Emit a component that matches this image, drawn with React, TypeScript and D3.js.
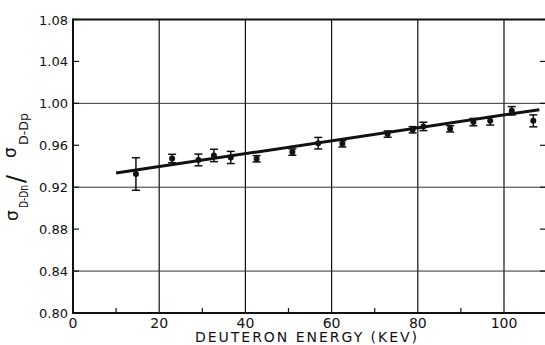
import React from "react";
import * as d3 from "d3";

const energies = [14.6, 23.0, 29.1, 32.7, 36.6, 42.6, 50.9, 56.9, 62.5, 73.0, 78.8, 81.3, 87.5, 92.9, 96.8, 101.8, 106.8];
const ratios = [0.9326, 0.9474, 0.946, 0.9503, 0.9484, 0.9471, 0.9535, 0.962, 0.9614, 0.9707, 0.9748, 0.978, 0.9757, 0.9821, 0.9833, 0.9929, 0.9833];
const errors = [0.0155, 0.004, 0.0056, 0.0059, 0.0058, 0.003, 0.003, 0.0055, 0.003, 0.003, 0.003, 0.004, 0.003, 0.0035, 0.004, 0.004, 0.0057];
const fitEnergies = [10.0, 108.2];
const fitRatios = [0.9335, 0.994];
const xTickLabels = [0, 20, 40, 60, 80, 100];
const xMinorTicks = [10, 30, 50, 70, 90];
const yTickLabels = [0.8, 0.84, 0.88, 0.92, 0.96, 1.0, 1.04, 1.08];
const yGrid = [0.84, 0.92, 1.0];
const xGrid = [20, 40, 60, 80, 100];

export default function App() {
  const W = 545, H = 345;
  const x = d3.scaleLinear().domain([0, 110]).range([73, 547.1]);
  const y = d3.scaleLinear().domain([0.8, 1.08]).range([313, 19.5]);
  const font = "'DejaVu Sans', sans-serif";
  const line = d3.line<number>().x((_, i) => x(fitEnergies[i])).y((d) => y(d));
  const ink = "#111";
  return (
    <svg width={W} height={H} style={{ position: "absolute", left: 0, top: 0, background: "#fff" }}>
      {/* grid */}
      {xGrid.map((g) => (
        <line key={"xg" + g} x1={x(g)} x2={x(g)} y1={y(1.08)} y2={y(0.8)} stroke={ink} strokeWidth={1.2} />
      ))}
      {yGrid.map((g) => (
        <line key={"yg" + g} x1={x(0)} x2={W} y1={y(g)} y2={y(g)} stroke="#333" strokeWidth={1} />
      ))}
      {/* frame */}
      <line x1={x(0)} x2={W} y1={y(1.08)} y2={y(1.08)} stroke={ink} strokeWidth={2} />
      <line x1={x(0)} x2={W} y1={y(0.8)} y2={y(0.8)} stroke={ink} strokeWidth={2} />
      <line x1={x(0)} x2={x(0)} y1={y(1.08) - 1} y2={y(0.8) + 1} stroke={ink} strokeWidth={2} />
      {/* y ticks */}
      {yTickLabels.map((t) => (
        <g key={"yt" + t}>
          <line x1={x(0)} x2={x(0) + 6} y1={y(t)} y2={y(t)} stroke={ink} strokeWidth={1.2} />
          <line x1={W - 5} x2={W} y1={y(t)} y2={y(t)} stroke={ink} strokeWidth={1.2} />
          <text x={68} y={y(t) + 5} textAnchor="end" fontFamily={font} fontSize={13} fill={ink}>
            {t.toFixed(2)}
          </text>
        </g>
      ))}
      {/* x minor ticks */}
      {xMinorTicks.map((t) => (
        <line key={"xm" + t} x1={x(t)} x2={x(t)} y1={y(0.8)} y2={y(0.8) - 5} stroke={ink} strokeWidth={1.2} />
      ))}
      {xTickLabels.map((t) => (
        <text key={"xt" + t} x={x(t)} y={327.5} textAnchor="middle" fontFamily={font} fontSize={14} fill={ink}>
          {t}
        </text>
      ))}
      <text x={306} y={342} textAnchor="middle" fontFamily={font} fontSize={14} fill={ink} textLength={222} lengthAdjust="spacing">
        DEUTERON ENERGY (KEV)
      </text>
      {/* y axis label */}
      <g transform="translate(0, 221) rotate(-90)" fontFamily={font} fill={ink}>
        <text x={0} y={18} fontSize={17}>σ</text>
        <text x={13} y={27.5} fontSize={12} textLength={23} lengthAdjust="spacingAndGlyphs">D-Dn</text>
        <text x={38} y={24} fontSize={24}>/</text>
        <text x={63} y={16} fontSize={17}>σ</text>
        <text x={76} y={27.5} fontSize={12} textLength={32} lengthAdjust="spacingAndGlyphs">D-Dp</text>
      </g>
      {/* fit line */}
      <path d={line(fitRatios) || ""} fill="none" stroke={ink} strokeWidth={3} />
      {/* data */}
      {energies.map((e, i) => {
        const cx = x(e);
        const y1 = y(ratios[i] + errors[i]);
        const y2 = y(ratios[i] - errors[i]);
        return (
          <g key={"p" + i}>
            <line x1={cx} x2={cx} y1={y1} y2={y2} stroke={ink} strokeWidth={1.5} />
            <line x1={cx - 4} x2={cx + 4} y1={y1} y2={y1} stroke={ink} strokeWidth={1.5} />
            <line x1={cx - 4} x2={cx + 4} y1={y2} y2={y2} stroke={ink} strokeWidth={1.5} />
            <circle cx={cx} cy={y(ratios[i])} r={3} fill={ink} />
          </g>
        );
      })}
    </svg>
  );
}
